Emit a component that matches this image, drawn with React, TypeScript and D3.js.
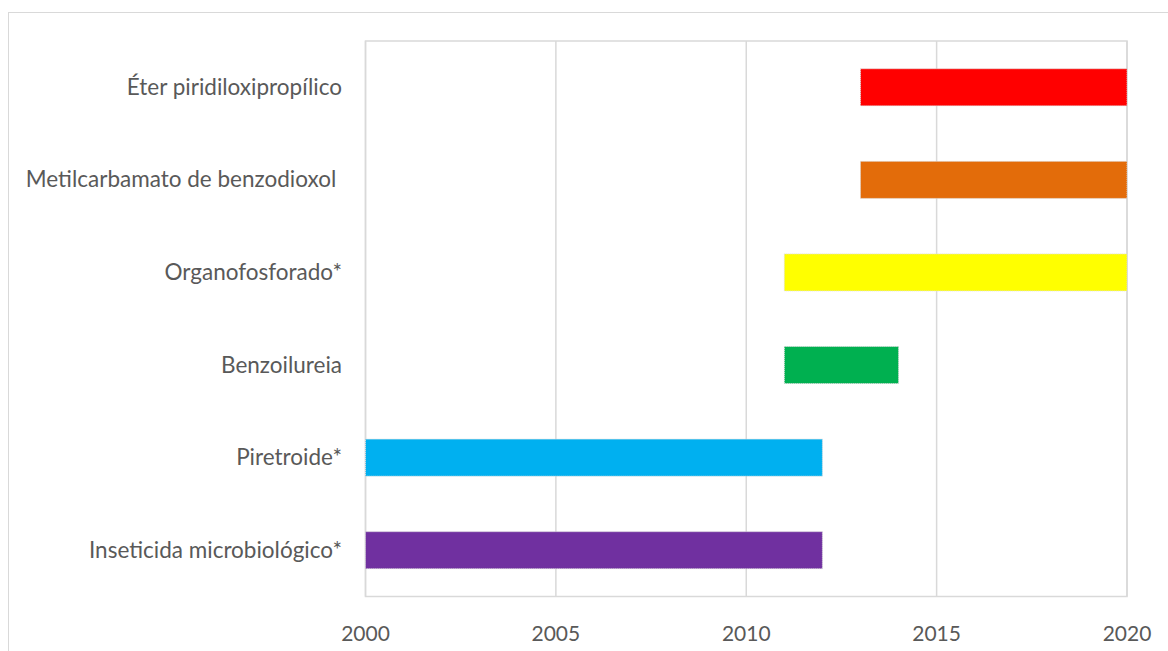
import React from "react";
import * as d3 from "d3";

// Pesticide classes and the years each one was in use
const categories = [
  "Éter piridiloxipropílico",
  "Metilcarbamato de benzodioxol ",
  "Organofosforado*",
  "Benzoilureia",
  "Piretroide*",
  "Inseticida microbiológico*",
];
const startYears = [2013, 2013, 2011, 2011, 2000, 2000];
const endYears = [2020, 2020, 2020, 2014, 2012, 2012];
const barColors = ["#ff0000", "#e36c0a", "#ffff00", "#00b050", "#00b0f0", "#7030a0"];
const tickYears = [2000, 2005, 2010, 2015, 2020];

const W = 1168;
const H = 651;
const plot = { left: 365.5, right: 1127, top: 41, bottom: 596.5 };
const FONT = "Lato, 'Open Sans', sans-serif";

export default function App() {
  const x = d3.scaleLinear().domain([2000, 2020]).range([plot.left, plot.right]);
  const y = d3
    .scaleBand<string>()
    .domain(categories)
    .range([plot.top, plot.bottom])
    .paddingInner(0.6)
    .paddingOuter(0.3);

  return (
    <svg
      width={W}
      height={H}
      style={{ position: "absolute", left: 0, top: 0, background: "#fff" }}
    >
      {/* chart frame */}
      <rect x={8.5} y={12.5} width={W + 10} height={H + 10} fill="#fff" stroke="#d9d9d9" strokeWidth={1} />

      {/* plot area border and vertical gridlines */}
      <rect
        x={plot.left}
        y={plot.top}
        width={plot.right - plot.left}
        height={plot.bottom - plot.top}
        fill="none"
        stroke="#d9d9d9"
        strokeWidth={1.5}
      />
      {tickYears.map((t) => (
        <line
          key={t}
          x1={x(t)}
          x2={x(t)}
          y1={plot.top}
          y2={plot.bottom}
          stroke="#d9d9d9"
          strokeWidth={1.5}
        />
      ))}

      {/* bars */}
      {categories.map((c, i) => (
        <rect
          key={c}
          x={x(startYears[i])}
          y={y(c)!}
          width={x(endYears[i]) - x(startYears[i])}
          height={y.bandwidth()}
          fill={barColors[i]}
          stroke="#dcdcdc"
          strokeWidth={1}
          strokeDasharray="1 1"
        />
      ))}

      {/* category labels */}
      {categories.map((c) => (
        <text
          key={c}
          x={342}
          y={y(c)! + y.bandwidth() / 2 - 1}
          textAnchor="end"
          dominantBaseline="central"
          fontFamily={FONT}
          fontSize={22.5}
          fill="#595959"
          style={{ whiteSpace: "pre" }}
        >
          {c}
        </text>
      ))}

      {/* year tick labels */}
      {tickYears.map((t) => (
        <text
          key={t}
          x={x(t)}
          y={632}
          textAnchor="middle"
          dominantBaseline="central"
          fontFamily={FONT}
          fontSize={21}
          fill="#595959"
        >
          {t}
        </text>
      ))}
    </svg>
  );
}
